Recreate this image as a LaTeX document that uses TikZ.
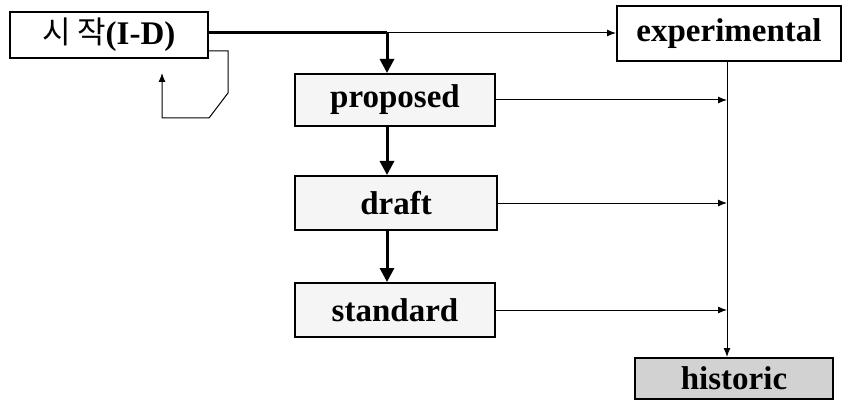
\documentclass[tikz,border=0pt]{standalone}
\usepackage{fontspec}
\setmainfont{Liberation Serif}
\newfontfamily\krfont{Noto Sans CJK KR}
\usetikzlibrary{arrows.meta}
\begin{document}
\begin{tikzpicture}[x=1pt,y=-1pt,
  box/.style={draw,line width=2pt,inner sep=0pt,font=\fontsize{33}{36}\selectfont\bfseries},
  thin/.style={line width=1pt,-{Latex[length=9pt,width=7pt]}},
  thick/.style={line width=3pt,-{Triangle[length=14pt,width=14pt]}}]
\useasboundingbox (0,0) rectangle (846,409);
% state boxes
\node[box,line width=2.4pt,minimum width=198pt,minimum height=46pt] (s) at (109,35)
  {\raisebox{1pt}{\krfont\mdseries\fontsize{31}{34}\selectfont 시\hspace{6pt}작}\rmfamily(I-D)};
\node[box,minimum width=224pt,minimum height=55pt] (e) at (729,33.5) {experimental};
\node[box,fill=gray!8,minimum width=200pt,minimum height=52pt] (p) at (395,100) {proposed};
\node[box,fill=gray!8,minimum width=202pt,minimum height=54pt] (d) at (396,203) {draft};
\node[box,fill=gray!8,minimum width=200pt,minimum height=54pt] (st) at (395,310) {standard};
\node[box,fill=gray!35,minimum width=198pt,minimum height=41pt] (h) at (734,378.5) {historic};
% routing points
\coordinate (c1) at (387,33);
\coordinate (vt) at (727,62);
\coordinate (vb) at (727,357);
% start to experimental and proposed
\draw[line width=3pt] (s.east |- c1) -- (c1);
\draw[thin] (c1) -- (e.west |- c1);
\draw[thick] (c1) -- (c1 |- p.north);
% progression down the track
\draw[thick] (p.south -| c1) -- (d.north -| c1);
\draw[thick] (d.south -| c1) -- (st.north -| c1);
% retirement line
\draw[thin] (vt) -- (vb);
\draw[thin] (p.east) -- (vt |- p.east);
\draw[thin] (d.east) -- (vt |- d.east);
\draw[thin] (st.east) -- (vt |- st.east);
% revision loop
\draw[thin] (s.east |- 0,51) -- (228,51) -- (228,93) -- (209,118) -- (162,118) -- (162,73);
\end{tikzpicture}
\end{document}
